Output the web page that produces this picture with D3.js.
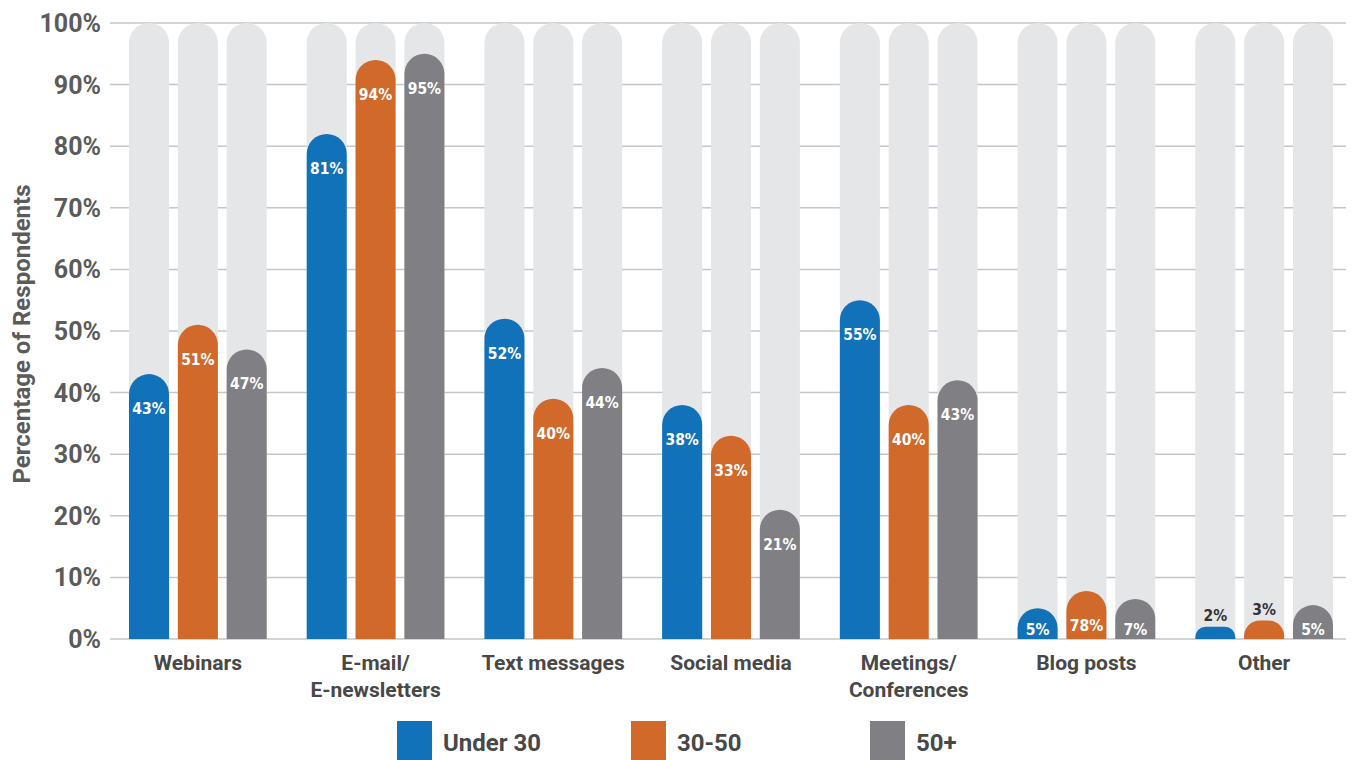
<!DOCTYPE html>
<html>
<head>
<meta charset="utf-8">
<script src="https://cdn.jsdelivr.net/npm/d3@7"></script>
<style>
  body { margin: 0; background: white; }
</style>
</head>
<body>
<script>
// data
let categories = ["Webinars", "E-mail/|E-newsletters", "Text messages", "Social media", "Meetings/|Conferences", "Blog posts", "Other"]
let series = ["Under 30", "30-50", "50+"]
let under30 = [43, 82, 52, 38, 55, 5, 2]
let age3050 = [51, 94, 39, 33, 38, 7.8, 3]
let over50 = [47, 95, 44, 21, 42, 6.5, 5.5]
// labels as printed on the chart (blog posts 30-50 reads "78%")
let labelsU30 = ["43%", "81%", "52%", "38%", "55%", "5%", "2%"]
let labels3050 = ["51%", "94%", "40%", "33%", "40%", "78%", "3%"]
let labels50 = ["47%", "95%", "44%", "21%", "43%", "7%", "5%"]
let yTicks = [0, 10, 20, 30, 40, 50, 60, 70, 80, 90, 100]
let colors = ["#1172ba", "#d0692a", "#808084"]

let values = [under30, age3050, over50]
let labels = [labelsU30, labels3050, labels50]

let svg = d3.select("body")
  .append("svg")
    .attr("width", 1354)
    .attr("height", 760)

let y = d3.scaleLinear().domain([0, 100]).range([639, 23])
let x = d3.scaleBand()
    .domain(categories)
    .range([109, 1353])
    .paddingInner(0.225)
    .paddingOuter(0.1125)
let xs = d3.scaleBand()
    .domain(series)
    .range([0, x.bandwidth()])
    .paddingInner(0.18)

// gridlines + tick labels
let grid = svg.append("g")
for (let t of yTicks) {
  grid.append("line")
    .attr("x1", 110).attr("x2", 1346)
    .attr("y1", y(t)).attr("y2", y(t))
    .attr("stroke", "#c6c6c6")
    .attr("stroke-width", 1.5)
  grid.append("text")
    .attr("x", 101)
    .attr("y", y(t) + 9)
    .attr("text-anchor", "end")
    .attr("font-family", "Roboto, sans-serif")
    .attr("font-weight", "bold")
    .attr("font-size", 25)
    .attr("fill", "#5b5b5b")
    .text(t + "%")
}

svg.append("text")
  .attr("transform", "translate(30, 334) rotate(-90)")
  .attr("text-anchor", "middle")
  .attr("font-family", "Roboto, sans-serif")
  .attr("font-weight", "bold")
  .attr("font-size", 24)
  .attr("fill", "#5b5b5b")
  .text("Percentage of Respondents")

// rounded top bar path
function capBar(x0, w, top, bottom) {
  let r = w / 2
  let h = bottom - top
  if (h < r) {
    // short bar: flat top with rounded corners
    let cr = h * 0.85
    return `M${x0},${bottom} L${x0},${top + cr} A${cr},${cr} 0 0 1 ${x0 + cr},${top} L${x0 + w - cr},${top} A${cr},${cr} 0 0 1 ${x0 + w},${top + cr} L${x0 + w},${bottom} Z`
  }
  return `M${x0},${bottom} L${x0},${top + r} A${r},${r} 0 0 1 ${x0 + w},${top + r} L${x0 + w},${bottom} Z`
}

let groups = svg.append("g").attr("id", "bars")
categories.forEach((c, ci) => {
  let g = groups.append("g").attr("transform", `translate(${x(c)},0)`)
  series.forEach((s, si) => {
    let bx = xs(s)
    let bw = xs.bandwidth()
    let v = values[si][ci]
    g.append("path")
      .attr("d", capBar(bx, bw, y(100), y(0)))
      .attr("fill", "#e5e6e8")
    g.append("path")
      .attr("d", capBar(bx, bw, y(v), y(0)))
      .attr("fill", colors[si])
    let inside = v >= 4
    let ly = inside ? Math.min(y(v) + 40, 635) : y(v) - 6
    g.append("text")
      .attr("x", bx + bw / 2)
      .attr("y", ly)
      .attr("text-anchor", "middle")
      .attr("font-family", "'DejaVu Sans Condensed', 'DejaVu Sans', sans-serif")
      .attr("font-stretch", "condensed")
      .attr("font-weight", "bold")
      .attr("font-size", 15.5)
      .attr("fill", inside ? "white" : "#333")
      .text(labels[si][ci])
  })
  let lines = c.split("|")
  lines.forEach((ln, li) => {
    svg.append("text")
      .attr("x", x(c) + x.bandwidth() / 2)
      .attr("y", 670 + li * 27)
      .attr("text-anchor", "middle")
      .attr("font-family", "Roboto, sans-serif")
      .attr("font-weight", "bold")
      .attr("font-size", 21)
      .attr("fill", "#484848")
      .text(ln)
  })
})

// legend
let legX = [397, 631, 870]
let legend = svg.append("g")
series.forEach((s, i) => {
  legend.append("rect")
    .attr("x", legX[i]).attr("y", 721)
    .attr("width", 35).attr("height", 42)
    .attr("fill", colors[i])
  legend.append("text")
    .attr("x", legX[i] + 46)
    .attr("y", 751)
    .attr("font-family", "Roboto, sans-serif")
    .attr("font-weight", "bold")
    .attr("font-size", 24)
    .attr("fill", "#484848")
    .text(s)
})
</script>
</body>
</html>
